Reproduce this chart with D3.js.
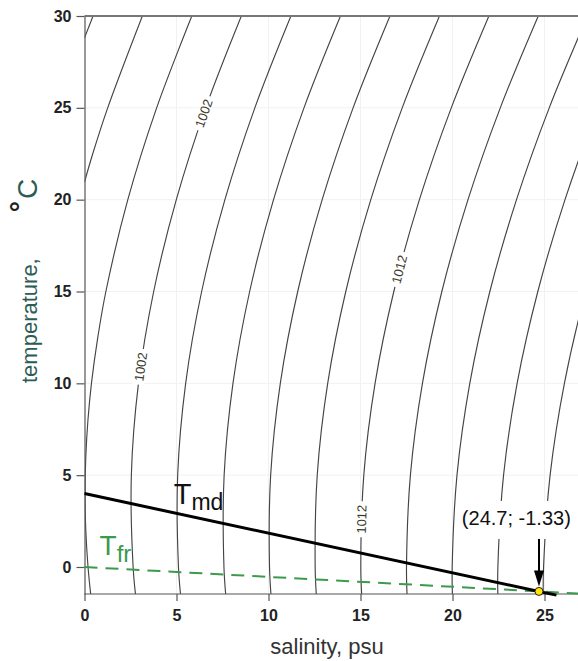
<!DOCTYPE html>
<html><head><meta charset="utf-8">
<script src="https://cdn.jsdelivr.net/npm/d3@7"></script>
<style>
body{margin:0;background:#fff}
svg{display:block;font-family:"Liberation Sans",Arial,Helvetica,sans-serif}
</style>
</head><body>
<svg id="chart" width="578" height="661"></svg>
<script>
// ---------- data ----------
const xTicks = [0, 5, 10, 15, 20, 25];
const yTicks = [0, 5, 10, 15, 20, 25, 30];

// isopycnals: [salinity, temperature] pairs
const iso996  = [[0,28.81],[0.465,30]];
const iso998  = [[0,20.96],[0.448,22.5],[1.261,25],[3.145,30]];
const iso1000 = [[0.3385,-1.5],[0.1915,0],[0.070,2],[0.031,4],[0.071,6],[0.187,8],[0.378,10],[0.722,12.5],[1.1615,15],[2.354,20],[3.921,25],[5.834,30]];
const iso1002 = [[2.773,-1.5],[2.642,0],[2.546,5],[2.933,10],[3.760,15],[4.990,20],[6.588,25],[8.525,30]];
const iso1004 = [[5.220,-1.5],[5.107,0],[5.064,5],[5.498,10],[6.367,15],[7.631,20],[9.258,25],[11.218,30]];
const iso1006 = [[7.675,-1.5],[7.579,0],[7.589,5],[8.069,10],[8.976,15],[10.274,20],[11.928,25],[13.911,30]];
const iso1008 = [[10.135,-1.5],[10.056,0],[10.117,5],[10.642,10],[11.588,15],[12.917,20],[14.598,25],[16.602,30]];
const iso1010 = [[12.598,-1.5],[12.536,0],[12.648,5],[13.217,10],[14.200,15],[15.560,20],[17.267,25],[19.291,30]];
const iso1012 = [[15.063,-1.5],[15.017,0],[15.179,5],[15.792,10],[16.811,15],[18.202,20],[19.933,25],[21.978,30]];
const iso1014 = [[17.529,-1.5],[17.500,0],[17.712,5],[18.366,10],[19.421,15],[20.842,20],[22.597,25],[24.662,30]];
const iso1016 = [[19.996,-1.5],[19.983,0],[20.244,5],[20.940,10],[22.030,15],[23.479,20],[25.258,25],[27.343,30]];
const iso1018 = [[22.463,-1.5],[22.466,0],[22.775,5],[23.512,10],[24.637,15],[26.114,20],[27.917,25],[30.020,30]];
const iso1020 = [[24.930,-1.5],[24.949,0],[25.305,5],[26.082,10],[27.241,15],[28.746,20],[30.571,25],[32.693,30]];
const isoLevels = [996, 998, 1000, 1002, 1004, 1006, 1008, 1010, 1012, 1014, 1016, 1018, 1020];
const isoPoints = [iso996, iso998, iso1000, iso1002, iso1004, iso1006, iso1008, iso1010, iso1012, iso1014, iso1016, iso1018, iso1020];

// contour labels
const labelLevels = [1002, 1002, 1012, 1012];
const labelTemps  = [24.7, 10.9, 16.2, 2.6];

// temperature of maximum density and freezing temperature
const tmdLine = [[0,4.0],[24.7,-1.33],[25.65,-1.53]];
const tfrLine = [[0,0],[24.7,-1.33],[27,-1.45]];
const crossPoint = [24.7, -1.33];
const crossText = "(24.7; -1.33)";

// ---------- chart ----------
const W = 578, H = 661;
const svg = d3.select("#chart");
const x = d3.scaleLinear().domain([0, 25]).range([84.5, 544.5]);
const y = d3.scaleLinear().domain([-1.47, 30]).range([594, 16]);
const x0 = x(0), yTop = y(30), yBot = y(-1.47);

svg.append("defs").append("clipPath").attr("id","plot")
  .append("rect").attr("x", x0).attr("y", yTop).attr("width", W - x0).attr("height", yBot - yTop);

// faint grid
const grid = svg.append("g").attr("stroke","#f1f1f1").attr("stroke-width",1);
grid.selectAll("line.v").data(xTicks.filter(d=>d>0)).join("line")
  .attr("x1",d=>x(d)).attr("x2",d=>x(d)).attr("y1",yTop).attr("y2",yBot);
grid.selectAll("line.h").data(yTicks.filter(d=>d>0 && d<30)).join("line")
  .attr("y1",d=>y(d)).attr("y2",d=>y(d)).attr("x1",x0).attr("x2",W);

// isopycnals
const line = d3.line().x(d=>x(d[0])).y(d=>y(d[1])).curve(d3.curveCatmullRom.alpha(0.5));
const gIso = svg.append("g").attr("clip-path","url(#plot)");
const isoPaths = gIso.selectAll("path").data(isoPoints).join("path")
  .attr("d", line).attr("fill","none").attr("stroke","#444").attr("stroke-width",1.15);

// contour labels
const gLab = svg.append("g");
labelLevels.forEach((lev, i) => {
  const node = isoPaths.nodes()[isoLevels.indexOf(lev)];
  const L = node.getTotalLength();
  const yt = y(labelTemps[i]);
  let lo = 0, hi = L;
  for (let k = 0; k < 40; k++) {
    const mid = (lo + hi) / 2;
    if (node.getPointAtLength(mid).y > yt) lo = mid; else hi = mid;
  }
  const s = (lo + hi) / 2;
  const p = node.getPointAtLength(s);
  const p1 = node.getPointAtLength(Math.max(0, s - 4)), p2 = node.getPointAtLength(Math.min(L, s + 4));
  const ang = Math.atan2(p2.y - p1.y, p2.x - p1.x) * 180 / Math.PI;
  const g = gLab.append("g").attr("transform", `translate(${p.x},${p.y}) rotate(${ang})`);
  g.append("rect").attr("x", -18).attr("y", -6).attr("width", 36).attr("height", 12).attr("fill", "#fff");
  g.append("text").attr("text-anchor","middle").attr("dy","0.35em")
    .attr("font-size", 13).attr("fill", "#3a3a2c").text(lev);
});

// top border
svg.append("line").attr("x1", x0).attr("x2", W).attr("y1", yTop).attr("y2", yTop)
  .attr("stroke","#777").attr("stroke-width",2);

// axes
const yAxis = svg.append("g").attr("transform",`translate(${x0},0)`)
  .call(d3.axisLeft(y).tickValues(yTicks).tickSize(8).tickSizeOuter(0).tickPadding(5));
yAxis.select(".domain").attr("stroke","#555").attr("stroke-width",1.2);
yAxis.selectAll(".tick line").attr("stroke","#555").attr("stroke-width",1.2);
yAxis.selectAll(".tick text").attr("font-size",16).attr("font-weight","bold").attr("fill","#222")
  .style("font-family",'"Liberation Sans",Arial,sans-serif');

const xAxis = svg.append("g").attr("transform",`translate(0,${yBot})`)
  .call(d3.axisBottom(x).tickValues(xTicks).tickSize(7).tickSizeOuter(0).tickPadding(9));
xAxis.select(".domain").remove();
xAxis.selectAll(".tick line").attr("stroke","#555").attr("stroke-width",1.2);
xAxis.selectAll(".tick text").attr("font-size",16).attr("font-weight","bold").attr("fill","#222")
  .style("font-family",'"Liberation Sans",Arial,sans-serif');
svg.append("line").attr("x1", x0).attr("x2", W).attr("y1", yBot).attr("y2", yBot)
  .attr("stroke","#555").attr("stroke-width",1.2);

// freezing line
const straight = d3.line().x(d=>x(d[0])).y(d=>y(d[1]));
svg.append("path").attr("d", straight(tfrLine)).attr("fill","none")
  .attr("stroke","#3c9a4c").attr("stroke-width",2).attr("stroke-dasharray","13,8");
// max density line
svg.append("path").attr("d", straight(tmdLine)).attr("fill","none")
  .attr("stroke","#000").attr("stroke-width",3);

// line labels
const tmdLab = svg.append("text").attr("x", x(4.85)).attr("y", y(3.43)).attr("fill","#111");
tmdLab.append("tspan").attr("font-size",29).text("T");
tmdLab.append("tspan").attr("font-size",23).attr("dy",6).text("md");
const tfrLab = svg.append("text").attr("x", x(0.82)).attr("y", y(0.65)).attr("fill","#3c9a4c");
tfrLab.append("tspan").attr("font-size",28).text("T");
tfrLab.append("tspan").attr("font-size",24).attr("dy",7).text("fr");

// annotation
const cx = x(crossPoint[0]), cy = y(crossPoint[1]);
const annBox = svg.append("rect").attr("fill","#fff");
const ann = svg.append("text").attr("x", x(23.47)).attr("y", y(2.29)).attr("text-anchor","middle")
  .attr("font-size",20).attr("fill","#111").text(crossText);
const bb = ann.node().getBBox();
annBox.attr("x", bb.x - 3).attr("y", bb.y - 6).attr("width", bb.width + 6).attr("height", bb.height + 16);
const arrowTop = bb.y + bb.height + 10;
const tipY = cy - 5;
svg.append("line").attr("x1", cx).attr("x2", cx).attr("y1", arrowTop).attr("y2", tipY - 12)
  .attr("stroke","#000").attr("stroke-width",2);
svg.append("path").attr("d", `M${cx-5},${tipY-16} L${cx+5},${tipY-16} L${cx},${tipY} Z`).attr("fill","#000");
svg.append("circle").attr("cx", cx).attr("cy", cy).attr("r", 4)
  .attr("fill","#ffe400").attr("stroke","#222").attr("stroke-width",1);

// axis titles
svg.append("text").attr("x", 327).attr("y", 654).attr("text-anchor","middle")
  .attr("font-size",22).attr("fill","#333").text("salinity, psu");
const yt = svg.append("text").attr("transform","translate(37,383) rotate(-90)").attr("text-anchor","start")
  .attr("font-size",22).attr("fill","#2b5c55");
yt.append("tspan").text("temperature,");
yt.append("tspan").attr("font-weight","bold").attr("fill","#222").attr("font-size",28).attr("dy",-7).attr("dx",46).text("°");
yt.append("tspan").attr("dy",7).attr("dx",2).attr("font-size",28).text("C");
</script>
</body></html>
